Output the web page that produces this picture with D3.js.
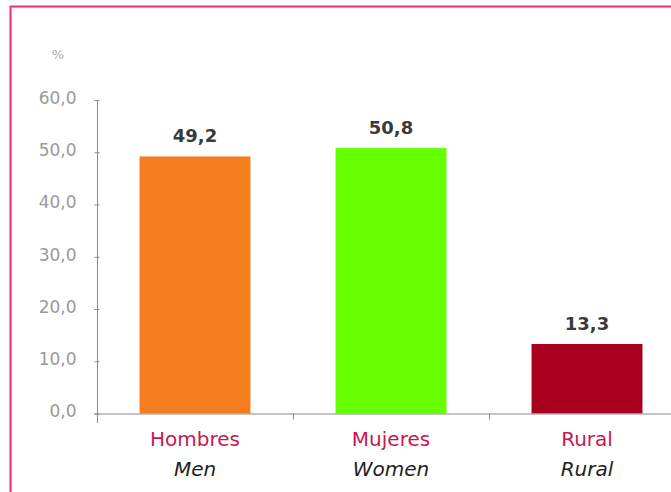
<!DOCTYPE html>
<html>
<head>
<meta charset="utf-8">
<script src="https://cdn.jsdelivr.net/npm/d3@7"></script>
<style>
  html, body { margin: 0; padding: 0; background: #fff; }
  svg { display: block; }
</style>
</head>
<body>
<svg id="chart" width="671" height="492"></svg>
<script>
// Population shares (%) by sex and rural residence
const categoriesEs = ["Hombres", "Mujeres", "Rural"];
const categoriesEn = ["Men", "Women", "Rural"];
const values = [49.2, 50.8, 13.3];
const barColors = ["#f57f20", "#66ff00", "#aa0020"];
const yTicks = [0, 10, 20, 30, 40, 50, 60];

const svg = d3.select("#chart");
const W = 671, H = 492;
const font = "'DejaVu Sans', Verdana, sans-serif";
const fmt = d => d3.format(".1f")(d).replace(".", ",");

// frame
svg.append("rect")
  .attr("x", 10.5).attr("y", 6.5)
  .attr("width", W + 20).attr("height", H + 20)
  .attr("fill", "none").attr("stroke", "#ff2a6d").attr("stroke-width", 2);

const x = d3.scaleBand()
  .domain(categoriesEs)
  .range([97, 685])
  .paddingInner(0.434)
  .paddingOuter(0.217);

const y = d3.scaleLinear().domain([0, 60]).range([413.5, 100]);

// y axis
const yAxis = d3.axisLeft(y)
  .tickValues(yTicks)
  .tickSize(4)
  .tickPadding(17)
  .tickFormat(fmt);

const gy = svg.append("g").attr("transform", "translate(97.5,0)").call(yAxis);
gy.select(".domain").remove();
gy.selectAll(".tick line").attr("stroke", "#8a8a8a").attr("x2", 2).attr("x1", -3);
gy.selectAll(".tick text")
  .attr("fill", "#9a9a9a")
  .attr("font-family", font)
  .attr("font-size", 17)
  .attr("dy", "0.2em");
svg.append("line")
  .attr("x1", 97.5).attr("x2", 97.5)
  .attr("y1", y(60)).attr("y2", 423)
  .attr("stroke", "#8a8a8a");

// unit label
svg.append("text")
  .attr("x", 58).attr("y", 59)
  .attr("text-anchor", "middle")
  .attr("fill", "#aaa")
  .attr("font-family", font)
  .attr("font-size", 13)
  .text("%");

// bars
svg.selectAll("rect.bar")
  .data(values)
  .join("rect")
  .attr("class", "bar")
  .attr("x", (d, i) => x(categoriesEs[i]))
  .attr("width", x.bandwidth())
  .attr("y", d => y(d))
  .attr("height", d => y(0) - y(d))
  .attr("fill", (d, i) => barColors[i]);

// x axis baseline and category separators
svg.append("line")
  .attr("x1", 94).attr("x2", W)
  .attr("y1", y(0) + 0.5).attr("y2", y(0) + 0.5)
  .attr("stroke", "#8a8a8a");
const seps = categoriesEs.slice(1).map(c => x(c) - x.step() * x.paddingInner() / 2);
svg.selectAll("line.sep")
  .data(seps)
  .join("line")
  .attr("class", "sep")
  .attr("x1", d => Math.round(d) + 0.5).attr("x2", d => Math.round(d) + 0.5)
  .attr("y1", y(0)).attr("y2", y(0) + 6)
  .attr("stroke", "#8a8a8a");

// value labels
svg.selectAll("text.val")
  .data(values)
  .join("text")
  .attr("class", "val")
  .attr("x", (d, i) => x(categoriesEs[i]) + x.bandwidth() / 2)
  .attr("y", d => y(d) - 14)
  .attr("text-anchor", "middle")
  .attr("fill", "#3a3a3a")
  .attr("font-family", font)
  .attr("font-weight", "bold")
  .attr("font-size", 18)
  .text(fmt);

// category labels (Spanish / English)
svg.selectAll("text.catEs")
  .data(categoriesEs)
  .join("text")
  .attr("class", "catEs")
  .attr("x", d => x(d) + x.bandwidth() / 2)
  .attr("y", 446)
  .attr("text-anchor", "middle")
  .attr("fill", "#c8174f")
  .attr("font-family", font)
  .attr("font-size", 20)
  .text(d => d);

svg.selectAll("text.catEn")
  .data(categoriesEn)
  .join("text")
  .attr("class", "catEn")
  .attr("x", (d, i) => x(categoriesEs[i]) + x.bandwidth() / 2)
  .attr("y", 476)
  .attr("text-anchor", "middle")
  .attr("fill", "#222")
  .attr("font-family", font)
  .attr("font-style", "italic")
  .attr("font-size", 20)
  .text(d => d);
</script>
</body>
</html>
